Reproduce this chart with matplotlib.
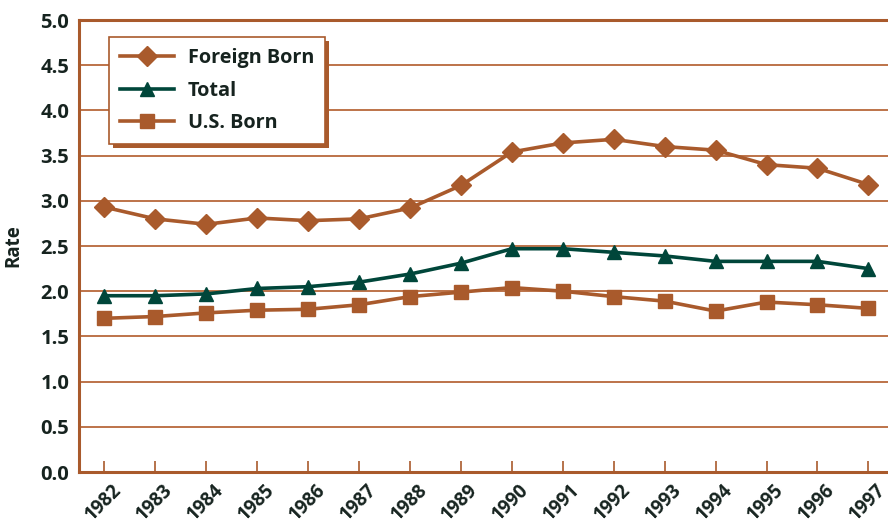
import matplotlib
matplotlib.use("Agg")
import matplotlib.pyplot as plt
import matplotlib.patheffects as pe
import matplotlib.transforms as mtrans

years = ["1982", "1983", "1984", "1985", "1986", "1987", "1988", "1989",
         "1990", "1991", "1992", "1993", "1994", "1995", "1996", "1997"]
foreign_born = [2.93, 2.80, 2.74, 2.81, 2.78, 2.80, 2.92, 3.17,
                3.54, 3.64, 3.68, 3.60, 3.56, 3.40, 3.36, 3.18]
total = [1.95, 1.95, 1.97, 2.03, 2.05, 2.10, 2.19, 2.31,
         2.47, 2.47, 2.43, 2.39, 2.33, 2.33, 2.33, 2.25]
us_born = [1.70, 1.72, 1.76, 1.79, 1.80, 1.85, 1.94, 1.99,
           2.04, 2.00, 1.94, 1.89, 1.78, 1.88, 1.85, 1.81]
yticks = [0.0, 0.5, 1.0, 1.5, 2.0, 2.5, 3.0, 3.5, 4.0, 4.5, 5.0]

ORANGE = "#A95A2C"
GRID = "#B8683A"
GREEN = "#00463A"
TEXT = "#16231F"

plt.rcParams['font.family'] = ['Open Sans', 'DejaVu Sans']

W, H = 888, 525
fig = plt.figure(figsize=(W / 100, H / 100), dpi=100)
left, right, top, bottom = 79, 888, 20, 472
ax = fig.add_axes([left / W, 1 - bottom / H, (right - left) / W, (bottom - top) / H])

x = list(range(len(years)))
ax.plot(x, foreign_born, color=ORANGE, lw=2.6, marker="D", ms=10.5, label="Foreign Born", zorder=4)
ax.plot(x, total, color=GREEN, lw=2.6, marker="^", ms=10, label="Total", zorder=4)
ax.plot(x, us_born, color=ORANGE, lw=2.6, marker="s", ms=10, label="U.S. Born", zorder=4)

spacing = 50.93
ax.set_xlim(-0.5, -0.5 + (right - left) / spacing)
ax.set_ylim(0, 5.0)
ax.set_yticks(yticks)
ax.set_yticklabels([f"{v:.1f}" for v in yticks])
ax.set_xticks(x)
ax.set_xticklabels(years, rotation=45, ha="right", rotation_mode="anchor")

for v in yticks[1:-1]:
    ax.axhline(v, color=GRID, lw=1.3, zorder=1)
ax.axhline(5.0, color=ORANGE, lw=2.2, zorder=1, clip_on=False)

for s in ["top", "right"]:
    ax.spines[s].set_visible(False)
for s in ["left", "bottom"]:
    ax.spines[s].set_color(ORANGE)
    ax.spines[s].set_linewidth(2.2)

ax.tick_params(axis="x", direction="in", length=8, width=1.2, color=ORANGE,
               labelsize=13.5, labelcolor=TEXT, pad=6)
ax.tick_params(axis="y", length=0, labelsize=14.5, labelcolor=TEXT, pad=7)
offset = mtrans.ScaledTranslation(7 / 100, 0, fig.dpi_scale_trans)
for lab in ax.get_xticklabels():
    lab.set_fontweight("bold")
    lab.set_transform(lab.get_transform() + offset)
for lab in ax.get_yticklabels():
    lab.set_fontweight("bold")

ax.set_ylabel("Rate", fontsize=13.5, fontweight="bold", color=TEXT, labelpad=12)

leg = ax.legend(loc="upper left", bbox_to_anchor=(109.3 / W, 1 - 37.3 / H),
                bbox_transform=fig.transFigure, borderaxespad=0,
                frameon=True, fancybox=False, handlelength=2.7, handletextpad=0.7,
                labelspacing=0.62, borderpad=0.55, prop={"weight": "bold", "size": 14.3})
frame = leg.get_frame()
frame.set_edgecolor(ORANGE)
frame.set_linewidth(1.2)
frame.set_facecolor("white")
frame.set_alpha(1)
frame.set_path_effects([pe.SimplePatchShadow(offset=(3, -3), shadow_rgbFace=ORANGE, alpha=1),
                        pe.Normal()])
for t in leg.get_texts():
    t.set_color(TEXT)
leg.set_zorder(10)

fig.savefig("out.png", dpi=100)
